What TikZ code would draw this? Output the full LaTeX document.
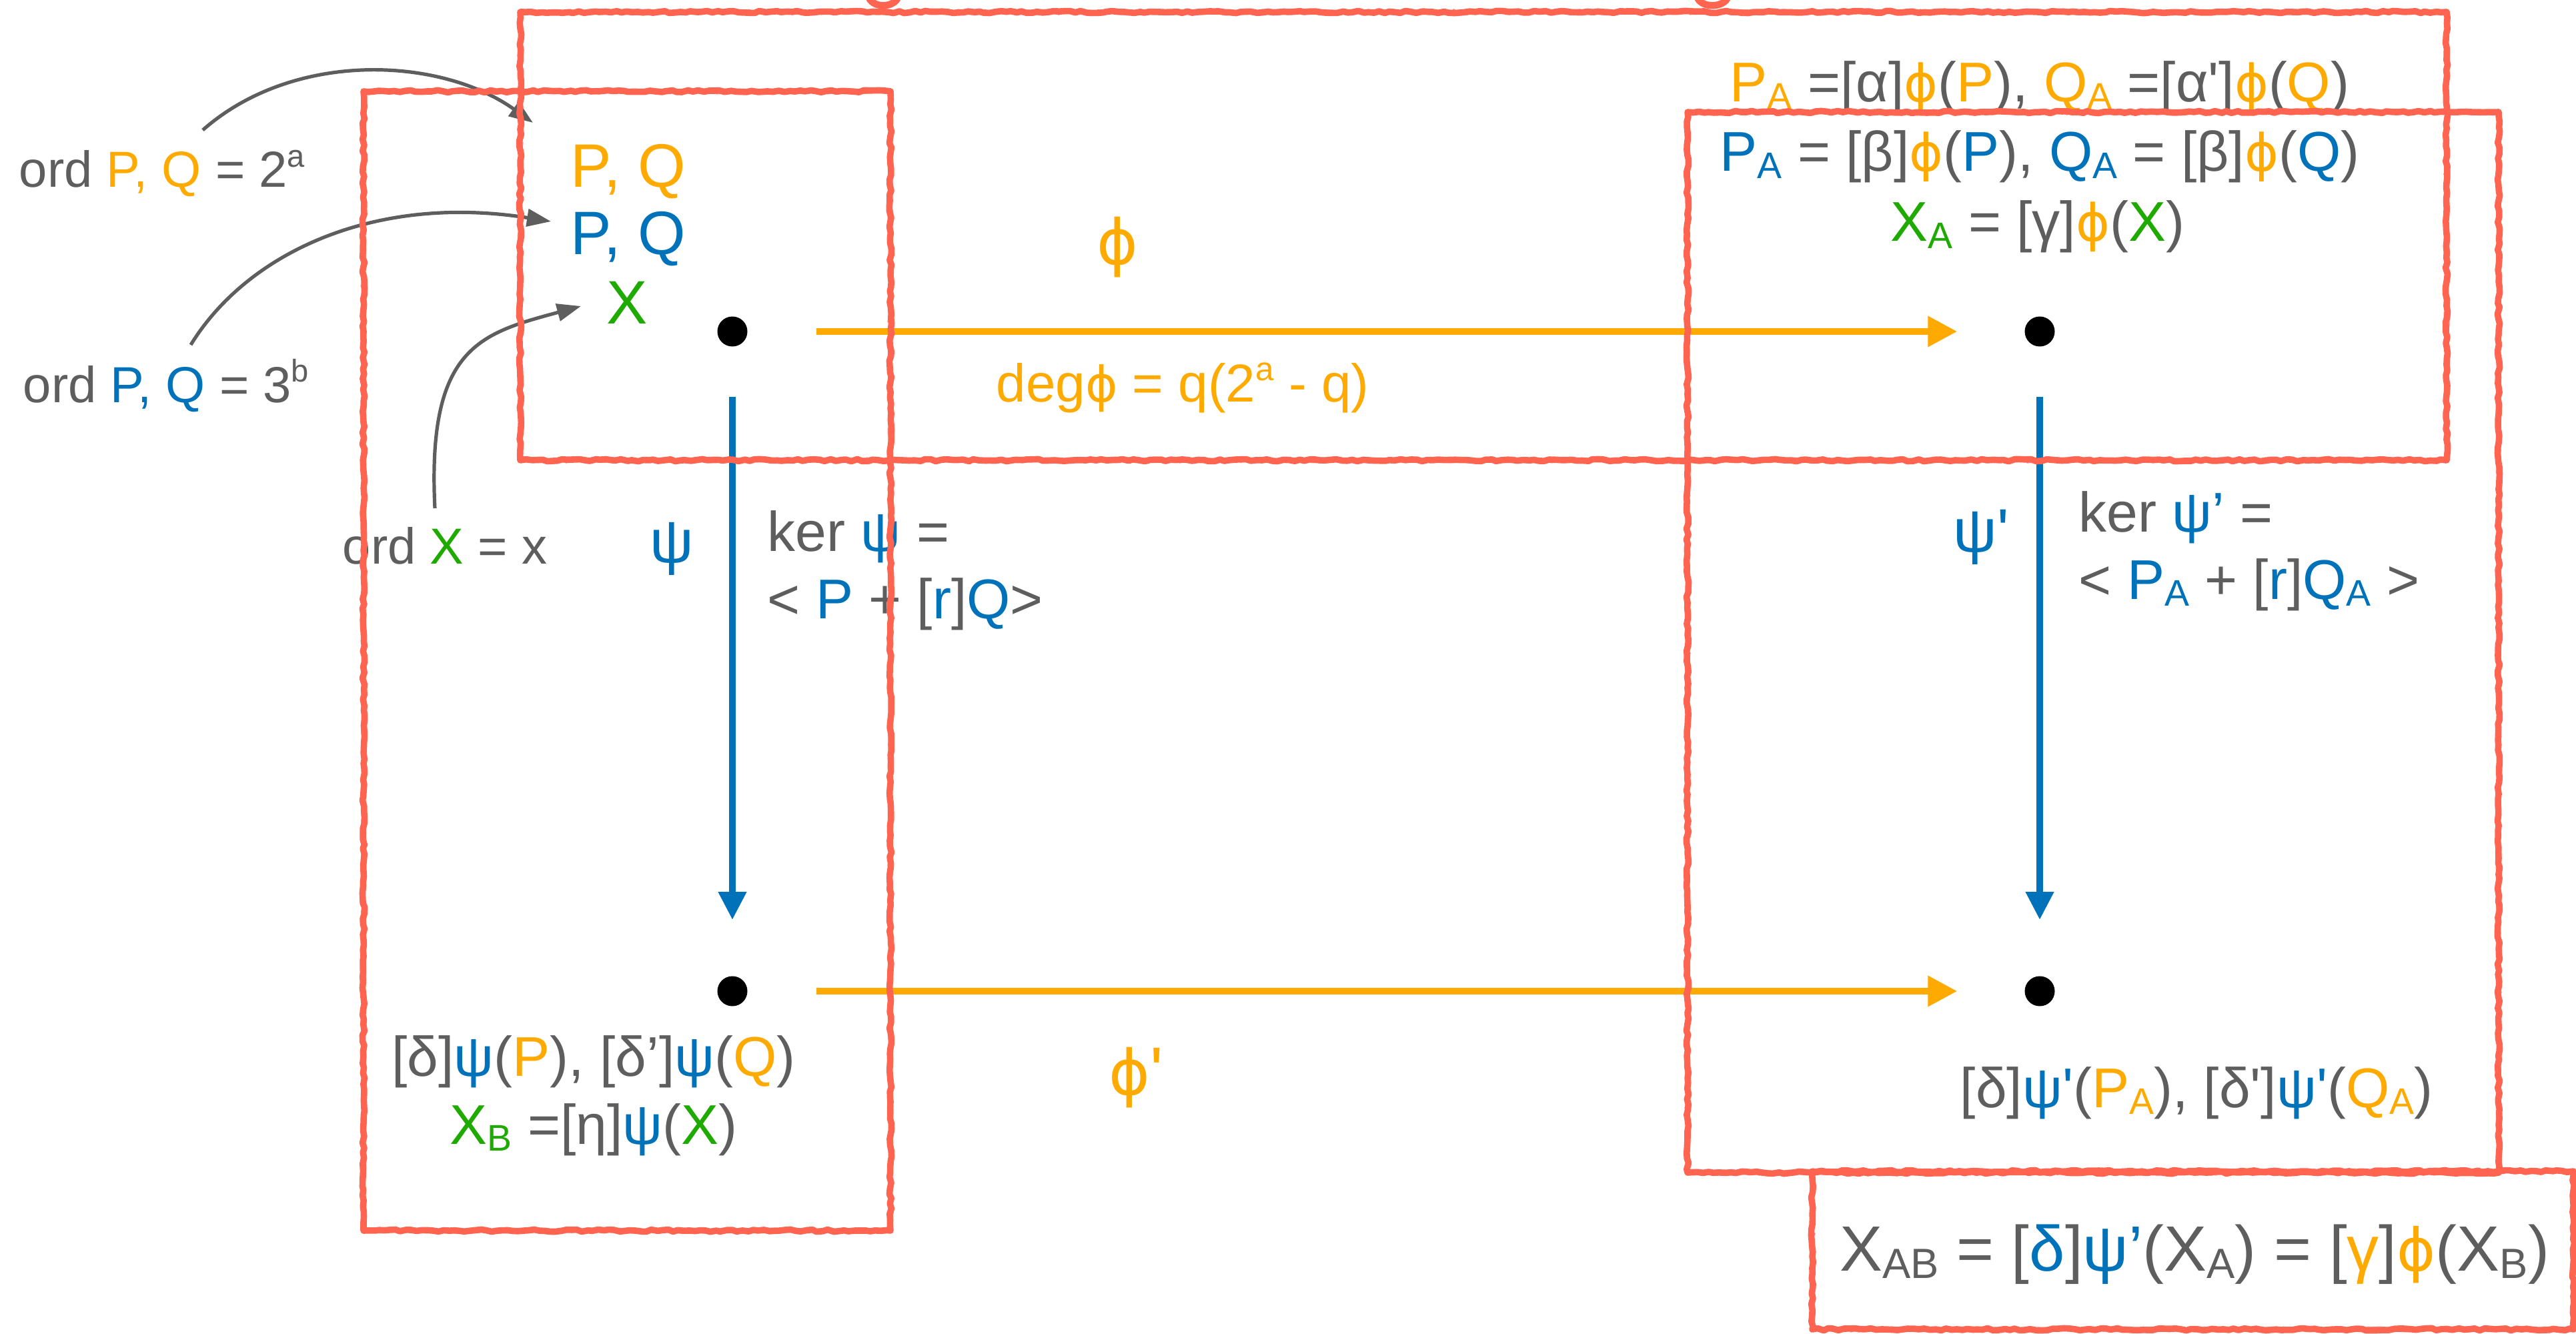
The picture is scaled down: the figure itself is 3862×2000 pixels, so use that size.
\documentclass[tikz,border=0pt]{standalone}
\usepackage{fontspec}
\setmainfont{Liberation Sans}[Ligatures=TeXOff]
\newfontfamily\phf{DejaVu Sans}[Scale=0.92]
\usetikzlibrary{arrows.meta,decorations.pathmorphing}
\definecolor{cor}{RGB}{255,170,0}
\definecolor{cbl}{RGB}{0,114,185}
\definecolor{cgr}{RGB}{30,170,0}
\definecolor{tgray}{RGB}{94,94,94}
\definecolor{chalkred}{RGB}{255,100,80}
\newcommand\myo[1]{\textcolor{cor}{#1}}
\newcommand\myb[1]{\textcolor{cbl}{#1}}
\newcommand\myg[1]{\textcolor{cgr}{#1}}
\newcommand\ph{{\phf ϕ}}
\newcommand\sbs[1]{\raisebox{-0.12em}{\scalebox{0.66}{#1}}}
\newcommand\sps[1]{\raisebox{0.4em}{\scalebox{0.62}{#1}}}
\begin{document}
\begin{tikzpicture}[x=0.25pt,y=-0.25pt,
  lab/.style={inner sep=0pt, text=tgray, anchor=base, font=\fontsize{21}{25}\selectfont},
  labw/.style={lab, anchor=base west},
  small/.style={font=\fontsize{20}{24}\selectfont},
  ordf/.style={font=\fontsize{19}{23}\selectfont},
  big/.style={font=\fontsize{23}{27}\selectfont},
  huge/.style={font=\fontsize{25.5}{30}\selectfont},
  dot/.style={circle, fill=black, inner sep=0pt, minimum size=11.25pt},
  oarr/.style={draw=cor, line width=2.5pt, -{Triangle[length=11pt,width=11pt]}},
  barr/.style={draw=cbl, line width=2.5pt, -{Triangle[length=10.5pt,width=10pt]}},
  garr/.style={draw=tgray, line width=1.3pt, -{Triangle[length=9pt,width=6.5pt]}},
  chalk/.style={draw=chalkred, line width=2.4pt, line join=round, decorate,
    decoration={random steps, segment length=2pt, amplitude=0.4pt}},
  chalkb/.style={draw=chalkred, line width=0.9pt, opacity=0.7, decorate,
    decoration={random steps, segment length=1.5pt, amplitude=0.7pt}},
  glyph/.style={draw=chalkred, line width=2.6pt}
]
\useasboundingbox[fill=white] (0,0) rectangle (3862,2000);
\pgfmathsetseed{7}

% dots
\node[dot] (d1) at (1098,497) {};
\node[dot] (d2) at (3058,497) {};
\node[dot] (d3) at (1098,1486) {};
\node[dot] (d4) at (3058,1486) {};

% arrows
\draw[oarr, shorten <=25.6pt, shorten >=25.1pt] (d1) -- (d2);
\draw[oarr, shorten <=25.6pt, shorten >=25.1pt] (d3) -- (d4);
\draw[barr, shorten <=18.6pt, shorten >=20.9pt] (d1) -- (d3);
\draw[barr, shorten <=18.6pt, shorten >=20.9pt] (d2) -- (d4);

% left labels
\node[lab, ordf] (ord1) at (243,281) {ord \myo{P, Q} = 2\sps{a}};
\node[lab, ordf] (ord2) at (249,603) {ord \myb{P, Q} = 3\sps{b}};
\node[lab, ordf] (ordx) at (667,845) {ord \myg{X} = x};
\node[lab, big, text=cor] (pq1) at (942,281) {P, Q};
\node[lab, big, text=cbl] (pq2) at (942,382) {P, Q};
\node[lab, big, text=cgr] (xx) at (940,485) {X};

\coordinate (g1s) at (304,195);
\coordinate (g1e) at (799,184);
\coordinate (g2s) at (286,517);
\coordinate (g2e) at (826,332);
\coordinate (g3s) at (652,762);
\coordinate (g3e) at (871,459);
\draw[garr] (g1s) .. controls (440,75) and (660,85) .. (g1e);
\draw[garr] (g2s) .. controls (370,380) and (560,290) .. (g2e);
\draw[garr] (g3s) .. controls (640,520) and (720,500) .. (g3e);

% map labels
\node[lab, big, text=cbl] (psi) at (1007,843) {ψ};
\node[labw] (ker1) at (1150,826) {ker \myb{ψ} =};
\node[labw] (ker1b) at (1150,927) {< \myb{P} + [\myb{r}]\myb{Q}>};
\node[lab, huge, text=cor] (phi) at (1675,397) {\ph};
\node[lab, small, text=cor] (deg) at (1773,602) {deg\ph{} = q(2\sps{a} - q)};
\node[lab, big, text=cbl] (psi2) at (2970,827) {ψ'};
\node[labw] (ker2) at (3116,797) {ker \myb{ψ’} =};
\node[labw] (ker2b) at (3116,898) {< \myb{P\sbs{A}} + [\myb{r}]\myb{Q\sbs{A}} >};
\node[lab, huge, text=cor] (phi2) at (1703,1641) {\ph'};

% top right
\node[lab] (tr1) at (3058,153) {\myo{P\sbs{A}} =[α]\myo{\ph}(\myo{P}), \myo{Q\sbs{A}} =[α']\myo{\ph}(\myo{Q})};
\node[lab] (tr2) at (3058,257) {\myb{P\sbs{A}} = [β]\myo{\ph}(\myb{P}), \myb{Q\sbs{A}} = [β]\myo{\ph}(\myb{Q})};
\node[lab] (tr3) at (3055,362) {\myg{X\sbs{A}} = [γ]\myo{\ph}(\myg{X})};

% bottom left
\node[lab] (bl1) at (890,1613) {[δ]\myb{ψ}(\myo{P}), [δ’]\myb{ψ}(\myo{Q})};
\node[lab] (bl2) at (890,1715) {\myg{X\sbs{B}} =[η]\myb{ψ}(\myg{X})};

% bottom right
\node[lab] (br) at (3293,1660) {[δ]\myb{ψ'}(\myo{P\sbs{A}}), [δ']\myb{ψ'}(\myo{Q\sbs{A}})};
\node[lab, font=\fontsize{24}{28}\selectfont] (bot) at (3290,1905) {X\sbs{AB} = [\myb{δ}]\myb{ψ’}(X\sbs{A}) = [\myo{γ}]\myo{\ph}(X\sbs{B})};

% red chalk boxes
\draw[chalk] (780,18) rectangle (3668,690);
\draw[chalk] (545,137) rectangle (1335,1845);
\draw[chalk] (2530,168) rectangle (3746,1758);
\draw[chalk] (2717,1756) rectangle (3858,1993);
\draw[chalkb] (780,18) rectangle (3668,690);
\draw[chalkb] (545,137) rectangle (1335,1845);
\draw[chalkb] (2530,168) rectangle (3746,1758);
\draw[chalkb] (2717,1756) rectangle (3858,1993);

% cut-off red glyphs at top edge
\draw[glyph] (1302,-6) .. controls (1306,13) and (1342,13) .. (1347,-6);
\draw[glyph] (2544,-6) .. controls (2548,13) and (2586,13) .. (2591,-6);
\end{tikzpicture}
\end{document}
